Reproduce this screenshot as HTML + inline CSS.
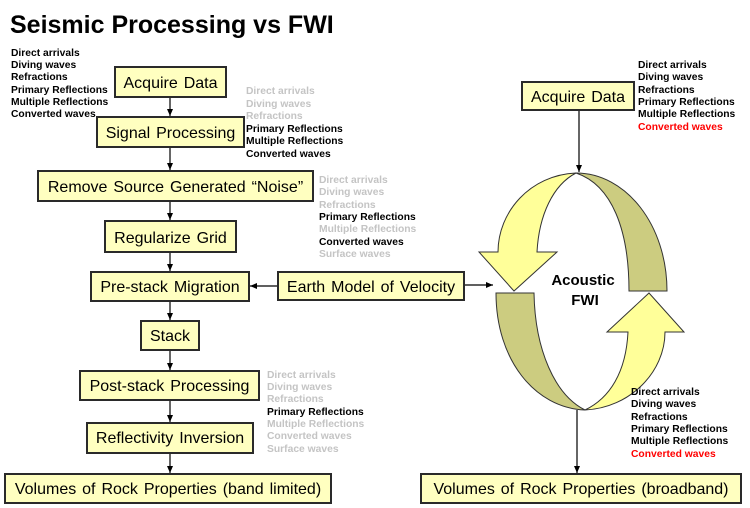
<!DOCTYPE html>
<html><head><meta charset="utf-8"><style>
html,body{margin:0;padding:0;background:#fff}
svg{display:block}
.b{fill:#ffffc0;stroke:#2a2a2a;stroke-width:2}
.t{font-family:"Liberation Sans",Arial,sans-serif;font-size:16px;fill:#000;word-spacing:1.5px}
.l{font-family:"Liberation Sans",Arial,sans-serif;font-size:10.3px;font-weight:bold;fill:#000}
.g{fill:#c4c4c4}
.r{fill:#ff0000}
.ln{stroke:#000;stroke-width:1.2;fill:none}
</style></head><body>
<svg width="750" height="508" viewBox="0 0 750 508" xmlns="http://www.w3.org/2000/svg">
<defs><marker id="a" markerWidth="8" markerHeight="8" refX="7" refY="4" orient="auto" markerUnits="userSpaceOnUse"><path d="M0,1 L7,4 L0,7 Z" fill="#000"/></marker></defs>
<text x="10" y="33" font-family="Liberation Sans,Arial,sans-serif" font-size="25" font-weight="bold">Seismic Processing vs FWI</text>

<line class="ln" x1="170" y1="97" x2="170" y2="116" marker-end="url(#a)"/>
<line class="ln" x1="170" y1="147" x2="170" y2="170" marker-end="url(#a)"/>
<line class="ln" x1="170" y1="201" x2="170" y2="220" marker-end="url(#a)"/>
<line class="ln" x1="170" y1="252" x2="170" y2="271" marker-end="url(#a)"/>
<line class="ln" x1="170" y1="301" x2="170" y2="320" marker-end="url(#a)"/>
<line class="ln" x1="170" y1="350" x2="170" y2="370" marker-end="url(#a)"/>
<line class="ln" x1="170" y1="400" x2="170" y2="422" marker-end="url(#a)"/>
<line class="ln" x1="170" y1="453" x2="170" y2="473" marker-end="url(#a)"/>
<line class="ln" x1="277" y1="286" x2="250" y2="286" marker-end="url(#a)"/>
<line class="ln" x1="464" y1="285" x2="493" y2="285" marker-end="url(#a)"/>
<line class="ln" x1="579" y1="110" x2="579" y2="172" marker-end="url(#a)"/>
<line class="ln" x1="577" y1="410" x2="577" y2="473" marker-end="url(#a)"/>

<rect class="b" x="115" y="67" width="111" height="30"/><text class="t" x="170.5" y="88" text-anchor="middle">Acquire Data</text>
<rect class="b" x="97" y="117" width="147" height="30"/><text class="t" x="170.5" y="138" text-anchor="middle">Signal Processing</text>
<rect class="b" x="38" y="171" width="275" height="30"/><text class="t" x="175.5" y="192" text-anchor="middle">Remove Source Generated “Noise”</text>
<rect class="b" x="105" y="221" width="131" height="31"/><text class="t" x="170.5" y="243" text-anchor="middle">Regularize Grid</text>
<rect class="b" x="91" y="272" width="158" height="29"/><text class="t" x="170" y="292" text-anchor="middle">Pre-stack Migration</text>
<rect class="b" x="278" y="272" width="186" height="28"/><text class="t" x="371" y="292" text-anchor="middle">Earth Model of Velocity</text>
<rect class="b" x="141" y="321" width="58" height="29"/><text class="t" x="170" y="341" text-anchor="middle">Stack</text>
<rect class="b" x="80" y="371" width="179" height="29"/><text class="t" x="169.5" y="391" text-anchor="middle">Post-stack Processing</text>
<rect class="b" x="87" y="423" width="166" height="30"/><text class="t" x="170" y="443" text-anchor="middle">Reflectivity Inversion</text>
<rect class="b" x="5" y="474" width="326" height="29"/><text class="t" x="168" y="494" text-anchor="middle">Volumes of Rock Properties (band limited)</text>
<rect class="b" x="522" y="82" width="112" height="28"/><text class="t" x="578" y="102" text-anchor="middle">Acquire Data</text>
<rect class="b" x="421" y="474" width="320" height="29"/><text class="t" x="581" y="494" text-anchor="middle">Volumes of Rock Properties (broadband)</text>

<path d="M576,173 C626,173 667,225 667,291 L629,291 C629,230 612,185 576,173 Z" fill="#cccc80" stroke="#333" stroke-width="1"/>
<path d="M576,173 C530,175 498,212 498,252 L479,252 L514,291 L557,252 L537,252 C539,215 553,185 576,173 Z" fill="#ffff99" stroke="#333" stroke-width="1"/>
<path d="M496,293 L534,293 C535,350 555,395 585,410 C535,408 496,360 496,293 Z" fill="#cccc80" stroke="#333" stroke-width="1"/>
<path d="M585,410 C630,408 665,372 665,332 L684,332 L649,293 L607,332 L628,332 C626,372 610,398 585,410 Z" fill="#ffff99" stroke="#333" stroke-width="1"/>
<text x="583" y="285" text-anchor="middle" font-family="Liberation Sans,Arial,sans-serif" font-size="15" font-weight="bold">Acoustic</text>
<text x="585" y="305" text-anchor="middle" font-family="Liberation Sans,Arial,sans-serif" font-size="15" font-weight="bold">FWI</text>

<g class="l">
<text x="11" y="56">Direct arrivals</text><text x="11" y="68">Diving waves</text><text x="11" y="80">Refractions</text><text x="11" y="93">Primary Reflections</text><text x="11" y="105">Multiple Reflections</text><text x="11" y="117">Converted waves</text>

<text x="246" y="94" class="g">Direct arrivals</text><text x="246" y="107" class="g">Diving waves</text><text x="246" y="119" class="g">Refractions</text><text x="246" y="132">Primary Reflections</text><text x="246" y="144">Multiple Reflections</text><text x="246" y="157">Converted waves</text>

<text x="319" y="183" class="g">Direct arrivals</text><text x="319" y="195" class="g">Diving waves</text><text x="319" y="208" class="g">Refractions</text><text x="319" y="220">Primary Reflections</text><text x="319" y="232" class="g">Multiple Reflections</text><text x="319" y="245">Converted waves</text><text x="319" y="257" class="g">Surface waves</text>

<text x="267" y="378" class="g">Direct arrivals</text><text x="267" y="390" class="g">Diving waves</text><text x="267" y="402" class="g">Refractions</text><text x="267" y="415">Primary Reflections</text><text x="267" y="427" class="g">Multiple Reflections</text><text x="267" y="439" class="g">Converted waves</text><text x="267" y="452" class="g">Surface waves</text>

<text x="638" y="68">Direct arrivals</text><text x="638" y="80">Diving waves</text><text x="638" y="93">Refractions</text><text x="638" y="105">Primary Reflections</text><text x="638" y="117">Multiple Reflections</text><text x="638" y="130" class="r">Converted waves</text>

<text x="631" y="395">Direct arrivals</text><text x="631" y="407">Diving waves</text><text x="631" y="420">Refractions</text><text x="631" y="432">Primary Reflections</text><text x="631" y="444">Multiple Reflections</text><text x="631" y="457" class="r">Converted waves</text>
</g>
</svg>
</body></html>
